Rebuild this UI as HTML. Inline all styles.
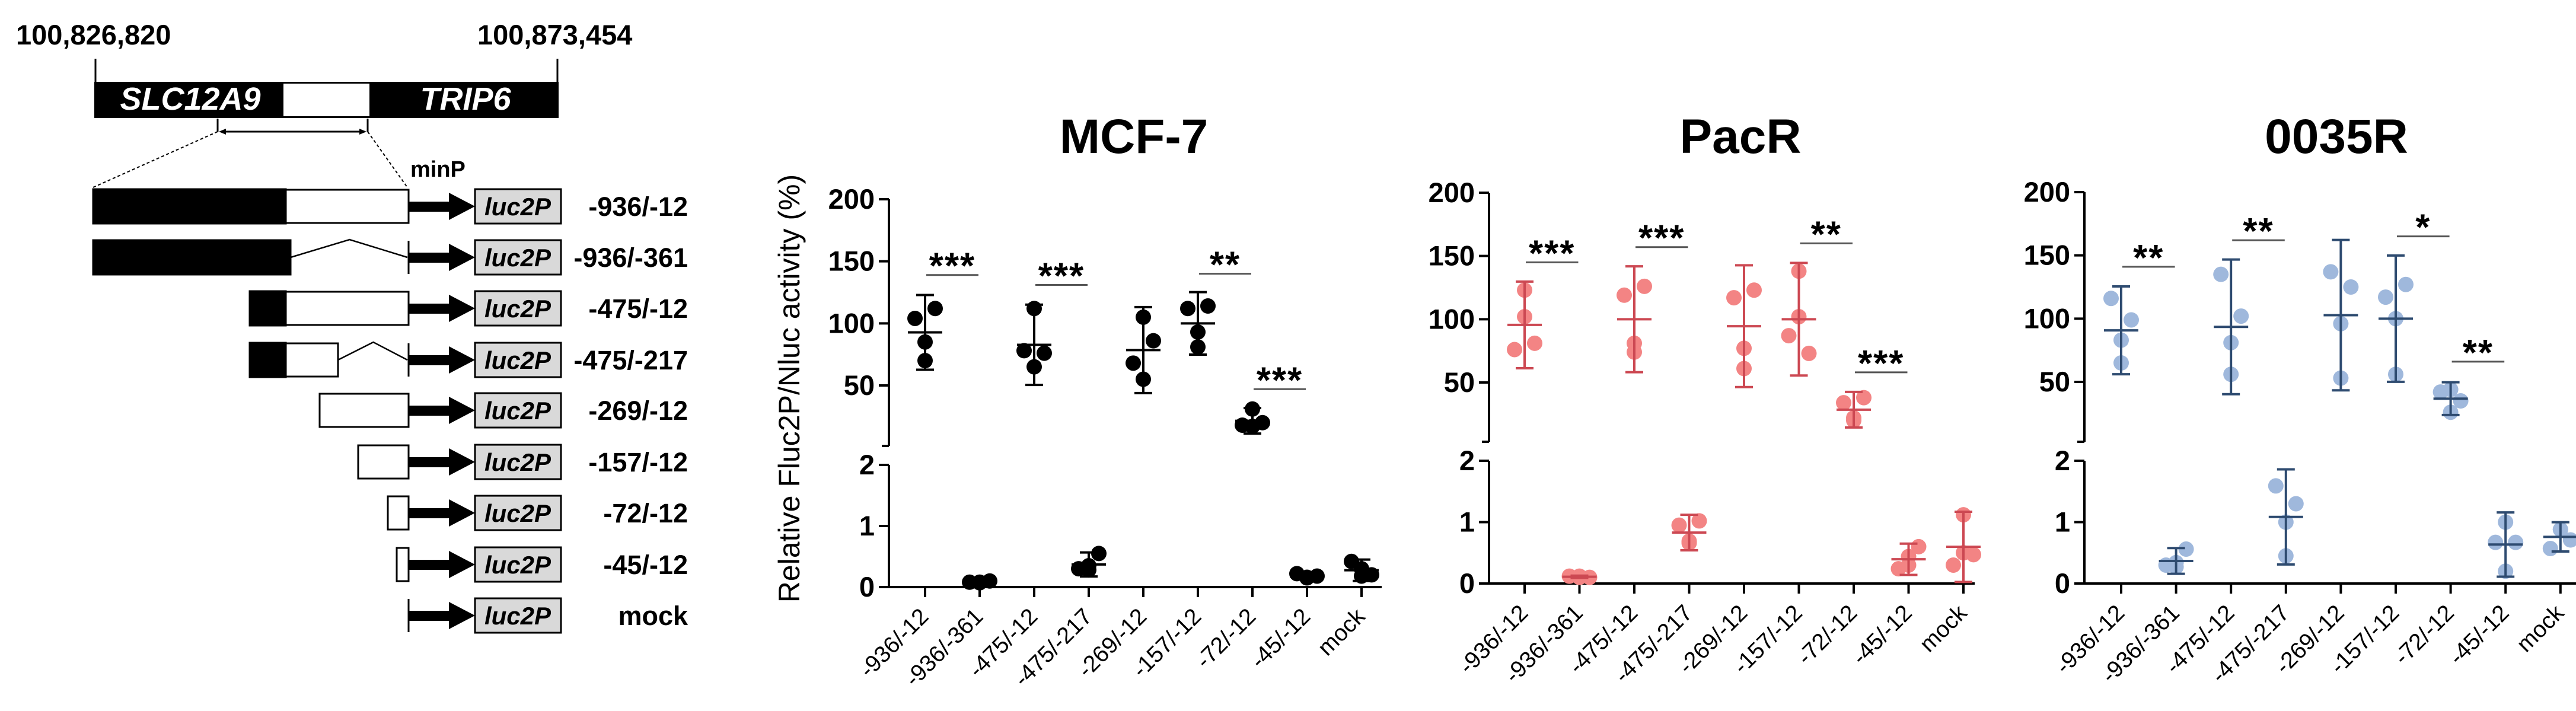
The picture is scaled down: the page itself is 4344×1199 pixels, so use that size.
<!DOCTYPE html>
<html><head><meta charset="utf-8"><style>
html,body{margin:0;padding:0;background:#fff;}
svg{display:block;font-family:"Liberation Sans",Arial,sans-serif;}
</style></head><body>
<svg id="fig" width="4344" height="1199" viewBox="0 0 4344 1199" xmlns="http://www.w3.org/2000/svg">
<g id="schematic">
  <text x="27" y="75" font-size="47" font-weight="bold">100,826,820</text>
  <text x="805" y="75" font-size="47" font-weight="bold">100,873,454</text>
  <line x1="161" y1="99" x2="161" y2="140" stroke="#000" stroke-width="3"/>
  <line x1="940" y1="99" x2="940" y2="140" stroke="#000" stroke-width="3"/>
  <rect x="159" y="138" width="783" height="61" fill="#000"/>
  <rect x="478" y="141" width="145" height="55" fill="#fff"/>
  <text x="321" y="185" font-size="54" font-weight="bold" font-style="italic" fill="#fff" text-anchor="middle">SLC12A9</text>
  <text x="785" y="185" font-size="54" font-weight="bold" font-style="italic" fill="#fff" text-anchor="middle">TRIP6</text>
  <line x1="367" y1="200" x2="367" y2="222" stroke="#000" stroke-width="3"/>
  <line x1="620" y1="200" x2="620" y2="222" stroke="#000" stroke-width="3"/>
  <line x1="372" y1="222" x2="615" y2="222" stroke="#000" stroke-width="3"/>
  <path d="M369 222 l12 -5 v10 z M618 222 l-12 -5 v10 z" fill="#000"/>
  <line x1="367" y1="222" x2="157" y2="316" stroke="#000" stroke-width="2" stroke-dasharray="5,4"/>
  <line x1="620" y1="222" x2="687" y2="316" stroke="#000" stroke-width="2" stroke-dasharray="5,4"/>
  <text x="692" y="298" font-size="38" font-weight="bold">minP</text>
  <g id="rows"></g>
</g>
<g id="charts"></g>
</svg>
<script>
const NS='http://www.w3.org/2000/svg';
function mk(tag,attrs,parent){const e=document.createElementNS(NS,tag);for(const k in attrs)e.setAttribute(k,attrs[k]);if(parent)parent.appendChild(e);return e;}

/* ---------- schematic rows ---------- */
const rowLabels=['-936/-12','-936/-361','-475/-12','-475/-217','-269/-12','-157/-12','-72/-12','-45/-12','mock'];
const rowY=[348,434,520,607,692,779,865,952,1038];
const rowsG=document.getElementById('rows');
const rowShapes=[[157,482,482,689,null],[157,490,null,null,490],[421,482,482,689,null],[421,482,482,570,570],[null,null,539,689,null],[null,null,604,689,null],[null,null,654,689,null],[null,null,669,689,null],[null,null,null,null,null]];
rowShapes.forEach((s,i)=>{
  const y=rowY[i];
  const g=mk('g',{},rowsG);
  
  
  if(s[0]!==null){mk('rect',{x:s[0],y:y-29,width:s[1]-s[0],height:58,fill:'#000',stroke:'#000','stroke-width':3},g);}
  if(s[2]!==null){mk('rect',{x:s[2],y:y-28,width:s[3]-s[2],height:56,fill:'#fff',stroke:'#000','stroke-width':3},g);}
  if(s[4]!==null){const mid=(s[4]+689)/2;mk('polyline',{points:`${s[4]},${y} ${mid},${y-30} 687,${y}`,fill:'none',stroke:'#000','stroke-width':2.5},g);}
  if(s[3]!==689){mk('line',{x1:689,y1:y-28,x2:689,y2:y+28,stroke:'#000','stroke-width':3},g);}
  mk('rect',{x:689,y:y-8,width:70,height:17,fill:'#000'},g);
  mk('path',{d:`M757 ${y-23} L801 ${y} L757 ${y+23} Z`,fill:'#000'},g);
  const b=mk('rect',{x:801,y:y-29,width:145,height:58,fill:'#d9d9d9',stroke:'#000','stroke-width':3},g);
  
  
  const t=mk('text',{x:873,y:y+15,'font-size':42,'font-weight':'bold','font-style':'italic','text-anchor':'middle'},g);t.textContent='luc2P';
  const l=mk('text',{x:1160,y:y+16,'font-size':45,'font-weight':'bold','text-anchor':'end'},g);l.textContent=rowLabels[i];
  
  
});

/* ---------- chart data ---------- */
const categories=['-936/-12','-936/-361','-475/-12','-475/-217','-269/-12','-157/-12','-72/-12','-45/-12','mock'];
const upperTicks=[200,150,100,50];
const lowerTicks=[2,1,0];
const mcfValues=[[104,112,85,70],[0.08,0.1,0.08,0.07],[78,76,112,65],[0.3,0.55,0.35,0.28],[68,86,105,55],[112,114,93,81],[18,20,31,17],[0.22,0.18,0.15,0.16],[0.42,0.2,0.3,0.18]];
const pacrValues=[[76,81,123,102],[0.12,0.1,0.1,0.12],[119,126,81,74],[0.95,1.02,0.69,0.66],[117,123,77,61],[87,73,138,102],[34,38,22,20],[0.24,0.6,0.44,0.3],[0.3,0.47,1.12,0.5]];
const r35Values=[[116,99,83,65],[0.3,0.56,0.34,0.27],[135,102,81,56],[1.59,1.3,1.0,0.45],[137,125,96,53],[117,127,100,56],[42,35,44,26],[0.67,0.67,1.0,0.2],[0.57,0.71,0.88,0.88]];
const mcfSig=[[0,1,'***',139],[2,3,'***',131],[5,6,'**',140],[6,7,'***',47]];
const pacrSig=[[0,1,'***',145],[2,3,'***',157],[5,6,'**',160],[6,7,'***',58]];
const r35Sig=[[0,1,'**',141],[2,3,'**',162],[5,6,'*',165],[6,7,'**',66]];

const panels=[
 {name:'mcf-7',title:'MCF-7',values:mcfValues,sig:mcfSig,ax:1499,t0:1560,step:92,end:2330,y200:336,y50:650,yb:752,y2:784,y0:990,dot:'#000',bar:'#000',tx:1912,ty:258},
 {name:'pacr',title:'PacR',values:pacrValues,sig:pacrSig,ax:2511,t0:2571,step:92.5,end:3330,y200:325,y50:645,yb:745,y2:777,y0:984,dot:'#f38484',bar:'#cc4852',tx:2935,ty:258},
 {name:'0035r',title:'0035R',values:r35Values,sig:r35Sig,ax:3515,t0:3577,step:92.6,end:4381,y200:324,y50:644,yb:745,y2:777,y0:984,dot:'#9fb8dc',bar:'#2e4b70',tx:3940,ty:258}
];
const jitter=[-17,17,0,0];
const tCrit=3.182/2; // 95% CI multiplier for n=4
const charts=document.getElementById('charts');

panels.forEach(p=>{
  const g=mk('g',{},charts);
  
  
  const yU=v=>p.y200+(200-v)*(p.y50-p.y200)/150;
  const yL=v=>p.y0-(v)*(p.y0-p.y2)/2;
  const xC=i=>p.t0+i*p.step;
  const title=mk('text',{x:p.tx,y:p.ty,'font-size':82,'font-weight':'bold','text-anchor':'middle'},g);
  title.textContent=p.title;
  
  
  const st={stroke:'#000','stroke-width':4};
  const ya=mk('line',Object.assign({x1:p.ax,y1:p.y200,x2:p.ax,y2:p.yb},st),g);
  
  
  mk('line',Object.assign({x1:p.ax-12,y1:p.yb,x2:p.ax,y2:p.yb},st),g);
  const yl=mk('line',Object.assign({x1:p.ax,y1:p.y2,x2:p.ax,y2:p.y0},st),g);
  
  
  const xa=mk('line',Object.assign({x1:p.ax-17,y1:p.y0,x2:p.end,y2:p.y0},st),g);
  
  
  upperTicks.forEach(v=>{
    const y=yU(v);
    mk('line',Object.assign({x1:p.ax-17,y1:y,x2:p.ax,y2:y},st),g);
    const t=mk('text',{x:p.ax-24,y:y+16,'font-size':47,'font-weight':'bold','text-anchor':'end'},g);t.textContent=v;
    
    
  });
  lowerTicks.forEach(v=>{
    const y=yL(v);
    mk('line',Object.assign({x1:p.ax-17,y1:y,x2:p.ax,y2:y},st),g);
    const t=mk('text',{x:p.ax-24,y:y+16,'font-size':47,'font-weight':'bold','text-anchor':'end'},g);t.textContent=v;
    
    
  });
  categories.forEach((c,i)=>{
    const x=xC(i);
    mk('line',Object.assign({x1:x,y1:p.y0,x2:x,y2:p.y0+17},st),g);
    const t=mk('text',{x:x+8,y:p.y0+52,'font-size':39,'text-anchor':'end',transform:`rotate(-45 ${x+8} ${p.y0+52})`},g);
    t.textContent=c;
    
    
  });
  p.values.forEach((vals,i)=>{
    const n=vals.length;
    const mean=vals.reduce((a,b)=>a+b,0)/n;
    const sd=Math.sqrt(vals.reduce((a,b)=>a+(b-mean)*(b-mean),0)/(n-1));
    const ci=tCrit*sd;
    const sc=mean>2?yU:yL;
    const x=xC(i);
    const grp=mk('g',{},g);
    
    
    vals.forEach((v,k)=>{
      const d=mk('circle',{cx:x+jitter[k],cy:sc(v),r:13,fill:p.dot},grp);
      
      
    });
    const bs={stroke:p.bar,'stroke-width':4};
    const hi=sc(mean+ci),lo=sc(Math.max(mean-ci,0));
    mk('line',Object.assign({x1:x,y1:hi,x2:x,y2:lo},bs),grp);
    mk('line',Object.assign({x1:x-15,y1:hi,x2:x+15,y2:hi},bs),grp);
    mk('line',Object.assign({x1:x-15,y1:lo,x2:x+15,y2:lo},bs),grp);
    const m=mk('line',Object.assign({x1:x-29,y1:sc(mean),x2:x+29,y2:sc(mean)},bs),grp);
    
    
  });
  p.sig.forEach(s=>{
    const y=yU(s[3]);
    const l=mk('line',{x1:xC(s[0])+2,y1:y,x2:xC(s[1])-2,y2:y,stroke:'#555','stroke-width':3},g);
    
    
    const t=mk('text',{x:(xC(s[0])+xC(s[1]))/2,y:y+6,'font-size':62,'font-weight':'bold','text-anchor':'middle','letter-spacing':'2'},g);
    t.textContent=s[2];
    
    
  });
});
const yt=mk('text',{x:0,y:0,'font-size':50,'text-anchor':'middle',transform:'translate(1348 655) rotate(-90)'},charts);
yt.textContent='Relative Fluc2P/Nluc activity (%)';


</script>
</body></html>
